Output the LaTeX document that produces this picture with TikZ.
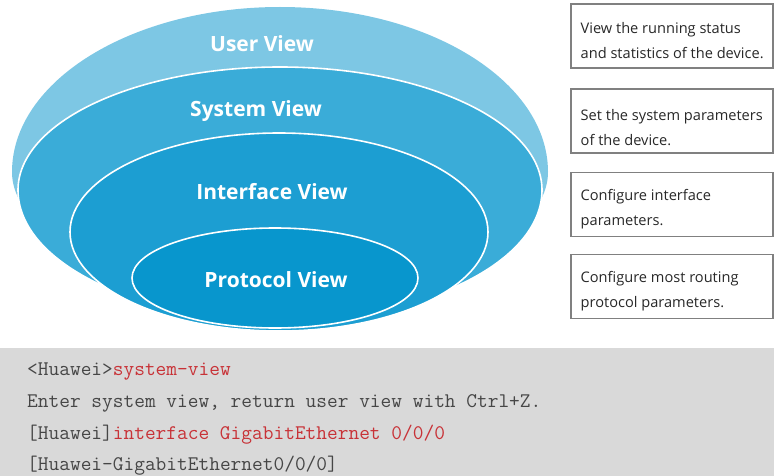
\documentclass[tikz,border=0pt]{standalone}
\usepackage{fontspec}
\setmainfont{Open Sans}
\definecolor{userc}{RGB}{125,199,228}
\definecolor{sysc}{RGB}{58,172,216}
\definecolor{ifc}{RGB}{28,158,210}
\definecolor{protc}{RGB}{8,150,205}
\definecolor{boxline}{RGB}{128,128,128}
\definecolor{boxtext}{RGB}{40,40,40}
\definecolor{panel}{RGB}{217,217,217}
\definecolor{codetext}{RGB}{70,70,70}
\definecolor{codered}{RGB}{200,50,55}
\tikzset{
  layer/.style={draw=white, line width=1.6pt},
  viewlabel/.style={text=white, font=\fontsize{21}{24}\selectfont\bfseries, inner sep=0pt},
  descbox/.style={draw=boxline, line width=1.8pt, fill=white, minimum width=202pt, minimum height=64pt, inner sep=0pt},
  desctext/.style={anchor=west, align=left, text=boxtext, inner sep=0pt, font=\fontsize{14.6}{25}\selectfont},
  codeline/.style={anchor=base west, inner sep=0pt, text=codetext, font=\fontsize{20.8}{22}\selectfont\ttfamily}
}
\begin{document}
\begin{tikzpicture}[x=1pt,y=-1pt]
\useasboundingbox (0,0) rectangle (774,476);
% nested views
\fill[userc] (12,172) arc[start angle=180,end angle=360,x radius=268,y radius=165]
  arc[start angle=0,end angle=180,x radius=268,y radius=120] -- cycle;
\filldraw[layer, fill=sysc] (18,190) arc[start angle=180,end angle=360,x radius=262,y radius=123]
  arc[start angle=0,end angle=180,x radius=262,y radius=130] -- cycle;
\filldraw[layer, fill=ifc] (279,232) ellipse[x radius=209, y radius=99];
\filldraw[layer, fill=protc] (275,278) ellipse[x radius=143, y radius=50];
\node[viewlabel] (user) at (262,44) {User View};
\node[viewlabel] (system) at (256,111) {System View};
\node[viewlabel] (iface) at (272,192) {Interface View};
\node[viewlabel] (proto) at (276,280) {Protocol View};
% description boxes
\node[descbox] (b1) at (672,36) {};
\node[descbox] (b2) at (672,121) {};
\node[descbox] (b3) at (672,204.5) {};
\node[descbox] (b4) at (672,286.5) {};
\node[desctext] (t1) at (580.5,40.5) {View the running status\\and statistics of the device.};
\node[desctext] (t2) at (580.5,127.5) {Set the system parameters\\of the device.};
\node[desctext] (t3) at (580.5,209.5) {Configure interface\\parameters.};
\node[desctext] (t4) at (580.5,291.5) {Configure most routing\\protocol parameters.};
% command panel
\fill[panel] (0,348) rectangle (774,476);
\node[codeline] (c1) at (27,375) {<Huawei>\textcolor{codered}{system-view}};
\node[codeline] (c2) at (27,407) {Enter system view, return user view with Ctrl+Z.};
\node[codeline] (c3) at (27,439) {[Huawei]\textcolor{codered}{interface GigabitEthernet 0/0/0}};
\node[codeline] (c4) at (27,470) {[Huawei-GigabitEthernet0/0/0]};
\end{tikzpicture}
\end{document}
